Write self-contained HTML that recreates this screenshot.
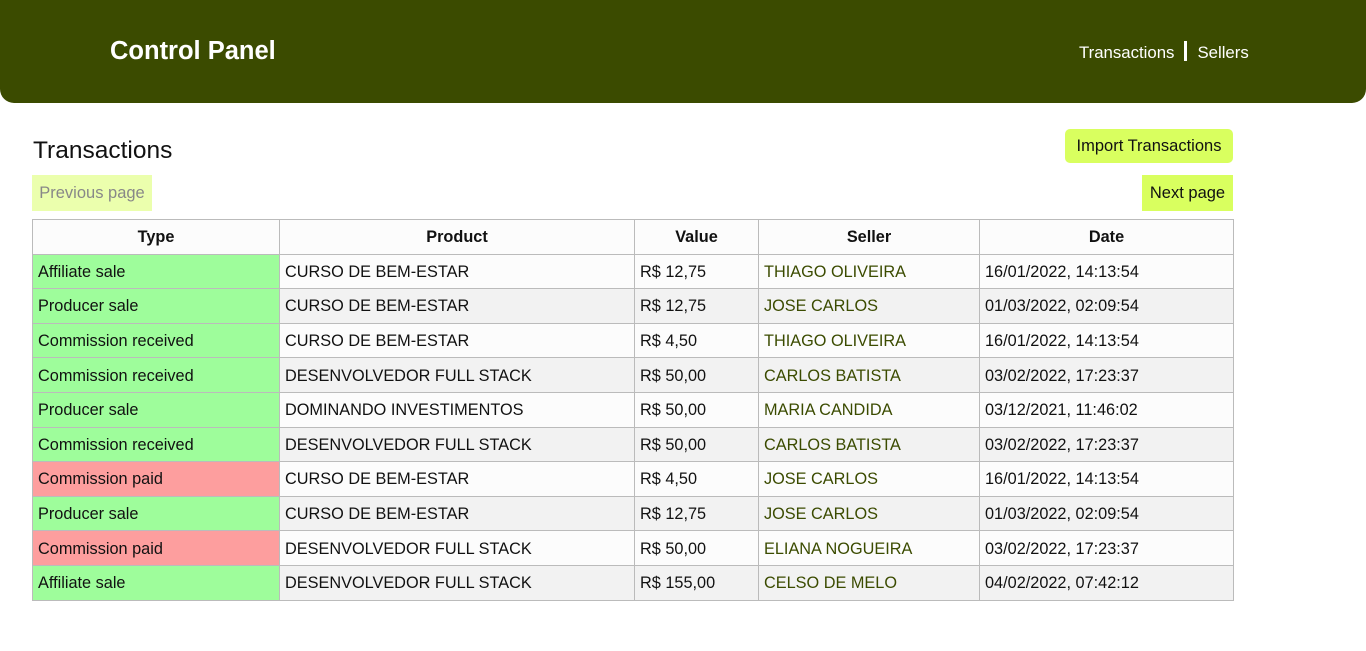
<!DOCTYPE html>
<html><head><meta charset="utf-8"><style>
*{box-sizing:border-box;margin:0;padding:0}
body{width:1366px;height:651px;background:#fff;font-family:"Liberation Sans",sans-serif;color:#111;position:relative;overflow:hidden}
.hdr{position:absolute;left:0;top:0;width:1366px;height:103px;background:#3b4b00;border-radius:0 0 14px 14px}
.title{position:absolute;left:110px;top:37px;font-size:25.5px;font-weight:bold;color:#fff}
.nav{position:absolute;left:1079px;top:41px;font-size:16.8px;color:#fff}
.nav span{cursor:pointer}
.sep{display:inline-block;width:3px;height:20px;background:#fff;vertical-align:-3px;margin:0 10px}
h2{position:absolute;left:33px;top:137px;font-size:24.5px;font-weight:normal}
.btn{position:absolute;font-size:16.5px;display:flex;align-items:center;justify-content:center}
table{position:absolute;left:32px;top:219px;width:1201px;border-collapse:collapse;table-layout:fixed;font-size:16.3px}
td,th{border:1px solid #bbb;height:34.6px;padding:2px 5px 0;white-space:nowrap}
th{text-align:center;font-weight:bold;background:#fcfcfc}
tbody tr:nth-child(odd) td{background:#fcfcfc}
tbody tr:nth-child(even) td{background:#f2f2f2}
td.g{background:#9efd9b!important}
td.r{background:#fd9e9e!important}
td.s{color:#3b4b00}
</style></head><body>
<div class="hdr">
<div class="title">Control Panel</div>
<div class="nav"><span>Transactions</span><span class="sep"></span><span>Sellers</span></div>
</div>
<h2>Transactions</h2>
<div class="btn" style="left:1065px;top:129px;width:168px;height:34px;background:#d9ff5f;border-radius:5px">Import Transactions</div>
<div class="btn" style="left:32px;top:175px;width:120px;height:36px;background:#ebffad;color:#888">Previous page</div>
<div class="btn" style="left:1142px;top:175px;width:91px;height:36px;background:#d9ff5f">Next page</div>
<table>
<colgroup><col style="width:247px"><col style="width:355px"><col style="width:124px"><col style="width:221px"><col style="width:254px"></colgroup>
<thead><tr><th>Type</th><th>Product</th><th>Value</th><th>Seller</th><th>Date</th></tr></thead>
<tbody id="tb"></tbody>
</table>
<script>
const types=["Affiliate sale","Producer sale","Commission received","Commission received","Producer sale","Commission received","Commission paid","Producer sale","Commission paid","Affiliate sale"];
const products=["CURSO DE BEM-ESTAR","CURSO DE BEM-ESTAR","CURSO DE BEM-ESTAR","DESENVOLVEDOR FULL STACK","DOMINANDO INVESTIMENTOS","DESENVOLVEDOR FULL STACK","CURSO DE BEM-ESTAR","CURSO DE BEM-ESTAR","DESENVOLVEDOR FULL STACK","DESENVOLVEDOR FULL STACK"];
const values=["R$ 12,75","R$ 12,75","R$ 4,50","R$ 50,00","R$ 50,00","R$ 50,00","R$ 4,50","R$ 12,75","R$ 50,00","R$ 155,00"];
const sellers=["THIAGO OLIVEIRA","JOSE CARLOS","THIAGO OLIVEIRA","CARLOS BATISTA","MARIA CANDIDA","CARLOS BATISTA","JOSE CARLOS","JOSE CARLOS","ELIANA NOGUEIRA","CELSO DE MELO"];
const dates=["16/01/2022, 14:13:54","01/03/2022, 02:09:54","16/01/2022, 14:13:54","03/02/2022, 17:23:37","03/12/2021, 11:46:02","03/02/2022, 17:23:37","16/01/2022, 14:13:54","01/03/2022, 02:09:54","03/02/2022, 17:23:37","04/02/2022, 07:42:12"];
const tb=document.getElementById('tb');
types.forEach((t,i)=>{
const tr=document.createElement('tr');


const cells=[t,products[i],values[i],sellers[i],dates[i]];
cells.forEach((c,j)=>{
const td=document.createElement('td');
td.textContent=c;
if(j===0)td.className=t==="Commission paid"?'r':'g';
if(j===3)td.className='s';


tr.appendChild(td);
});
tb.appendChild(tr);
});
</script>
</body></html>
